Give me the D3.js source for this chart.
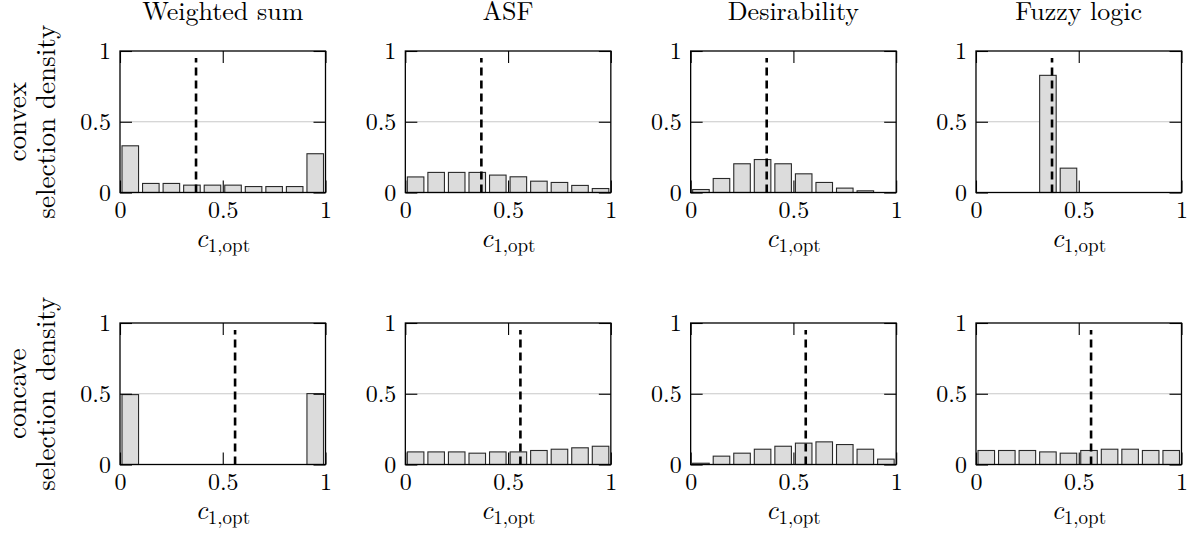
<!DOCTYPE html>
<html>
<head>
<meta charset="utf-8">
<script src="https://cdn.jsdelivr.net/npm/d3@7"></script>
<style>
  html, body { margin: 0; padding: 0; background: #fff; }
  text { font-family: "Latin Modern Roman", "CMU Serif", "Liberation Serif", serif; fill: #000; }
</style>
</head>
<body>
<div id="chart"></div>
<script>
// columns / rows of the grid
const methods = ["Weighted sum", "ASF", "Desirability", "Fuzzy logic"];
const shapes = ["convex", "concave"];
const binStarts = [0, 0.1, 0.2, 0.3, 0.4, 0.5, 0.6, 0.7, 0.8, 0.9];
const binWidth = 0.1;
const optimum = [0.37, 0.56]; // dashed line, one per row
const xTicks = [0, 0.5, 1];
const yTicks = [0, 0.5, 1];

// selection density per bin
const convexWeightedSum = [0.33, 0.064, 0.064, 0.052, 0.052, 0.052, 0.042, 0.042, 0.042, 0.274];
const convexASF = [0.11, 0.142, 0.142, 0.142, 0.123, 0.111, 0.08, 0.071, 0.05, 0.028];
const convexDesirability = [0.021, 0.099, 0.203, 0.233, 0.203, 0.132, 0.071, 0.031, 0.012, 0];
const convexFuzzy = [0, 0, 0, 0.828, 0.172, 0, 0, 0, 0, 0];
const concaveWeightedSum = [0.494, 0, 0, 0, 0, 0, 0, 0, 0, 0.501];
const concaveASF = [0.089, 0.089, 0.089, 0.08, 0.089, 0.089, 0.099, 0.108, 0.118, 0.129];
const concaveDesirability = [0.009, 0.059, 0.08, 0.108, 0.129, 0.151, 0.16, 0.141, 0.108, 0.038];
const concaveFuzzy = [0.099, 0.099, 0.099, 0.089, 0.08, 0.099, 0.108, 0.108, 0.099, 0.099];

const densities = [
  [convexWeightedSum, convexASF, convexDesirability, convexFuzzy],
  [concaveWeightedSum, concaveASF, concaveDesirability, concaveFuzzy]
];

const width = 1194, height = 535;
const panelLeft = 120, panelStep = 285.33, panelWidth = 205.5;
const rowTops = [51, 323], panelHeight = 141.5;
const tickLen = 12;

const svg = d3.select("#chart")
  .append("svg")
  .attr("width", width)
  .attr("height", height);

const x = d3.scaleLinear().domain([0, 1]).range([0, panelWidth]);
const y = d3.scaleLinear().domain([0, 1]).range([panelHeight, 0]);

shapes.forEach((shape, r) => {
  methods.forEach((method, c) => {
    const g = svg.append("g")
      .attr("transform", `translate(${panelLeft + c * panelStep}, ${rowTops[r]})`);

    // light grid at 0.5
    g.append("line")
      .attr("x1", 0).attr("x2", panelWidth)
      .attr("y1", y(0.5)).attr("y2", y(0.5))
      .attr("stroke", "#c8c8c8")
      .attr("stroke-width", 1);

    // histogram bars
    g.selectAll("rect.bar")
      .data(binStarts.map((b, i) => ({ lo: b, hi: b + binWidth, v: densities[r][c][i] })))
      .join("rect")
      .attr("class", "bar")
      .attr("x", d => x(d.lo) + 2)
      .attr("width", d => x(d.hi) - x(d.lo) - 4)
      .attr("y", d => y(d.v))
      .attr("height", d => y(0) - y(d.v))
      .attr("fill", "#dcdcdc")
      .attr("stroke", "#2a2a2a")
      .attr("stroke-width", 1.1);

    // axes with inward ticks
    const bottom = g.append("g")
      .attr("transform", `translate(0, ${panelHeight})`)
      .call(d3.axisBottom(x).tickValues(xTicks).tickSize(-tickLen).tickFormat(d3.format("")));
    bottom.selectAll("text")
      .attr("y", 25).attr("dy", null)
      .style("font-size", "24px");

    g.append("g")
      .call(d3.axisTop(x).tickValues(xTicks).tickSize(-tickLen).tickFormat(""));

    const left = g.append("g")
      .call(d3.axisLeft(y).tickValues(yTicks).tickSize(-tickLen).tickFormat(d3.format("")));
    left.selectAll("text")
      .attr("x", -9).attr("dy", "0.33em")
      .style("font-size", "24px");

    g.append("g")
      .attr("transform", `translate(${panelWidth}, 0)`)
      .call(d3.axisRight(y).tickValues(yTicks).tickSize(-tickLen).tickFormat(""));

    g.selectAll(".domain").remove();
    g.selectAll(".tick line").attr("stroke", "#000").attr("stroke-width", 1.1);
    g.selectAll(".tick text").attr("font-family", null).attr("font-size", null);

    // frame
    g.append("rect")
      .attr("width", panelWidth)
      .attr("height", panelHeight)
      .attr("fill", "none")
      .attr("stroke", "#000")
      .attr("stroke-width", 1.3);

    // optimum marker
    g.append("line")
      .attr("x1", x(optimum[r])).attr("x2", x(optimum[r]))
      .attr("y1", y(0)).attr("y2", y(0.95))
      .attr("stroke", "#000")
      .attr("stroke-width", 2.6)
      .attr("stroke-dasharray", "8,5");

    // x label c_{1,opt}
    const xl = g.append("text")
      .attr("x", panelWidth / 2)
      .attr("y", panelHeight + 54)
      .attr("text-anchor", "middle")
      .style("font-size", "27px");
    xl.append("tspan").attr("font-style", "italic").text("c");
    xl.append("tspan").attr("dy", 5).style("font-size", "19px").text("1,opt");

    if (r === 0) {
      g.append("text")
        .attr("x", panelWidth / 2)
        .attr("y", -31)
        .attr("text-anchor", "middle")
        .style("font-size", "26px")
        .text(method);
    }

    if (c === 0) {
      const yl = g.append("text")
        .attr("transform", `translate(-94, ${panelHeight / 2}) rotate(-90)`)
        .attr("text-anchor", "middle")
        .style("font-size", "27px");
      yl.append("tspan").attr("x", 0).attr("y", 0).text(shape);
      yl.append("tspan").attr("x", 0).attr("y", 29).text("selection density");
    }
  });
});
</script>
</body>
</html>
